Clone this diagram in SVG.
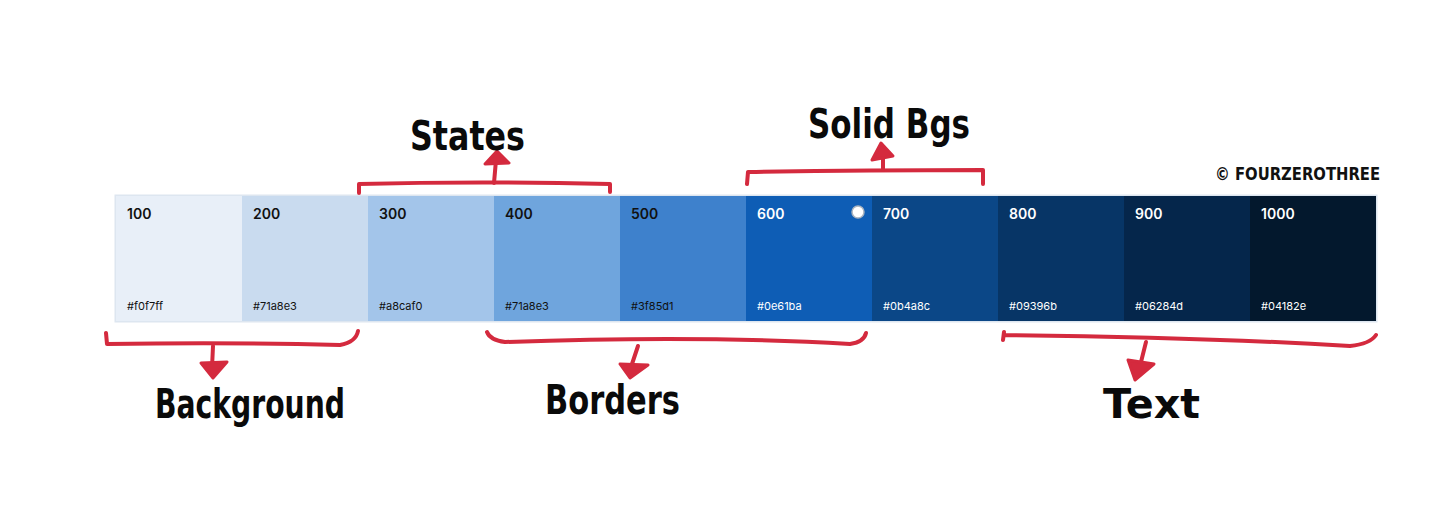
<svg xmlns="http://www.w3.org/2000/svg" width="1456" height="530" viewBox="0 0 1456 530">
<style>
.num{font-family:Inter,"Noto Sans",sans-serif;font-size:14px;font-weight:600}
.hex{font-family:Inter,"Noto Sans",sans-serif;font-size:11px}
.dk{fill:#111}
.lt{fill:#fff}
.br{fill:none;stroke:#d42a3e;stroke-width:4;stroke-linecap:round;stroke-linejoin:round}
.ah{fill:#d42a3e;stroke:#d42a3e;stroke-width:3;stroke-linejoin:round}
.hw{font-family:"DejaVu Sans",sans-serif;font-weight:bold;fill:#0a0a0a}
</style>
<rect width="1456" height="530" fill="#fff"/>
<g id="palette">
<rect x="115.5" y="195.5" width="1261" height="126" fill="none" stroke="#dde6f0" stroke-width="2"/>
<g id="s100"><rect x="116" y="196" width="126" height="125" fill="#e8eff8"/><text class="num dk" x="127" y="219">100</text><text class="hex dk" x="127" y="310">#f0f7ff</text></g>
<g id="s200"><rect x="242" y="196" width="126" height="125" fill="#c9dbef"/><text class="num dk" x="253" y="219">200</text><text class="hex dk" x="253" y="310">#71a8e3</text></g>
<g id="s300"><rect x="368" y="196" width="126" height="125" fill="#a3c5ea"/><text class="num dk" x="379" y="219">300</text><text class="hex dk" x="379" y="310">#a8caf0</text></g>
<g id="s400"><rect x="494" y="196" width="126" height="125" fill="#6fa5dd"/><text class="num dk" x="505" y="219">400</text><text class="hex dk" x="505" y="310">#71a8e3</text></g>
<g id="s500"><rect x="620" y="196" width="126" height="125" fill="#3e81cc"/><text class="num dk" x="631" y="219">500</text><text class="hex dk" x="631" y="310">#3f85d1</text></g>
<g id="s600"><rect x="746" y="196" width="126" height="125" fill="#0e5db5"/><text class="num lt" x="757" y="219">600</text><text class="hex lt" x="757" y="310">#0e61ba</text><circle cx="858" cy="212" r="6" fill="#fff" stroke="#aab4c0" stroke-width="1.5"/></g>
<g id="s700"><rect x="872" y="196" width="126" height="125" fill="#0b4787"/><text class="num lt" x="883" y="219">700</text><text class="hex lt" x="883" y="310">#0b4a8c</text></g>
<g id="s800"><rect x="998" y="196" width="126" height="125" fill="#073566"/><text class="num lt" x="1009" y="219">800</text><text class="hex lt" x="1009" y="310">#09396b</text></g>
<g id="s900"><rect x="1124" y="196" width="126" height="125" fill="#05264b"/><text class="num lt" x="1135" y="219">900</text><text class="hex lt" x="1135" y="310">#06284d</text></g>
<g id="s1000"><rect x="1250" y="196" width="126" height="125" fill="#03182d"/><text class="num lt" x="1261" y="219">1000</text><text class="hex lt" x="1261" y="310">#04182e</text></g>
</g>
<g id="connectors">
<path class="br" d="M359 193 L359 184 Q480 181 610 184 L610 192"/>
<path class="br" d="M494 183 L496 160"/>
<path class="ah" d="M485 164 L497 151 L509 163 Z"/>
<path class="br" d="M747 184 L748 172 Q860 170 983 170 L983 184"/>
<path class="br" d="M883 170 L883 152"/>
<path class="ah" d="M872 160 L881 143 L893 156 Z"/>
<path class="br" d="M106 333 L107 344 Q230 342 340 345 Q356 342 358 331"/>
<path class="br" d="M213 346 L212 368"/>
<path class="ah" d="M201 363 L213 378 L227 362 Z"/>
<path class="br" d="M487 332 Q490 340 505 342 Q700 335 850 344 Q864 342 866 333"/>
<path class="br" d="M638 346 L630 370"/>
<path class="ah" d="M620 364 L630 378 L648 365 Z"/>
<path class="br" d="M1003 340 L1004 332 M1004 335 Q1200 337 1350 346 Q1370 344 1376 335"/>
<path class="br" d="M1146 342 L1140 366"/>
<path class="ah" d="M1128 360 L1135 380 L1154 364 Z"/>
</g>
<g id="labels">
<text class="hw" x="410" y="150" font-size="40" textLength="115" lengthAdjust="spacingAndGlyphs">States</text>
<text class="hw" x="808" y="138" font-size="40" textLength="162" lengthAdjust="spacingAndGlyphs">Solid Bgs</text>
<text class="hw" x="155" y="418" font-size="40" textLength="190" lengthAdjust="spacingAndGlyphs">Background</text>
<text class="hw" x="545" y="414" font-size="40" textLength="135" lengthAdjust="spacingAndGlyphs">Borders</text>
<text class="hw" x="1103" y="418" font-size="40" textLength="97" lengthAdjust="spacingAndGlyphs">Text</text>
<text x="1215" y="180" font-family="'DejaVu Sans',sans-serif" font-weight="bold" font-size="17" fill="#111" textLength="165" lengthAdjust="spacingAndGlyphs">© FOURZEROTHREE</text>
</g>
</svg>
